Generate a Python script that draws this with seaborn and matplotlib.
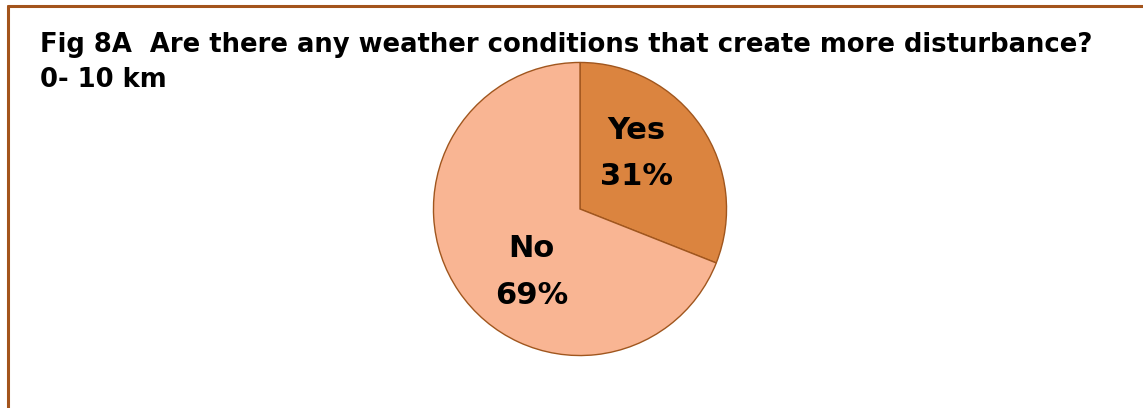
import matplotlib
matplotlib.use("Agg")
import matplotlib.pyplot as plt
import seaborn as sns
from matplotlib.lines import Line2D

categories = ["Yes", "No"]
values = [31, 69]
colors = ["#DB843F", "#F9B593"]
title_line1 = "Fig 8A  Are there any weather conditions that create more disturbance?"
title_line2 = "0- 10 km"

sns.set_theme(style="white")
plt.rcParams['font.family'] = ['DejaVu Sans']

W, H = 1143, 408
fig = plt.figure(figsize=(W / 100, H / 100), dpi=100)
fig.patch.set_facecolor("white")

cx, cy, r = 580, 209, 148
ax = fig.add_axes([(cx - r) / W, (H - cy - r) / H, 2 * r / W, 2 * r / H])
wedges, _ = ax.pie(values, colors=colors, startangle=90, counterclock=False,
                   wedgeprops=dict(edgecolor="#A0561E", linewidth=1.0))
ax.set_xlim(-1.01, 1.01)
ax.set_ylim(-1.01, 1.01)
ax.set_aspect("equal")
ax.axis("off")

label_pos = [(0.385, 0.38), (-0.33, -0.43)]
for cat, v, (lx, ly) in zip(categories, values, label_pos):
    ax.text(lx, ly, f"{cat}\n{v}%", ha="center", va="center", fontsize=22,
            fontweight="bold", color="black", linespacing=1.75)

fig.text(40 / W, 1 - 45 / H, title_line1, fontsize=18.6, fontweight="bold",
         ha="left", va="center", color="black")
fig.text(40 / W, 1 - 80 / H, title_line2, fontsize=18.6, fontweight="bold",
         ha="left", va="center", color="black")

bx, by = 8 / W, 1 - 6 / H
fig.add_artist(Line2D([bx, bx], [0, by], transform=fig.transFigure, color="#A3541C", linewidth=2.2))
fig.add_artist(Line2D([bx, 1], [by, by], transform=fig.transFigure, color="#A3541C", linewidth=2.2))

fig.savefig("out.png", dpi=100)
